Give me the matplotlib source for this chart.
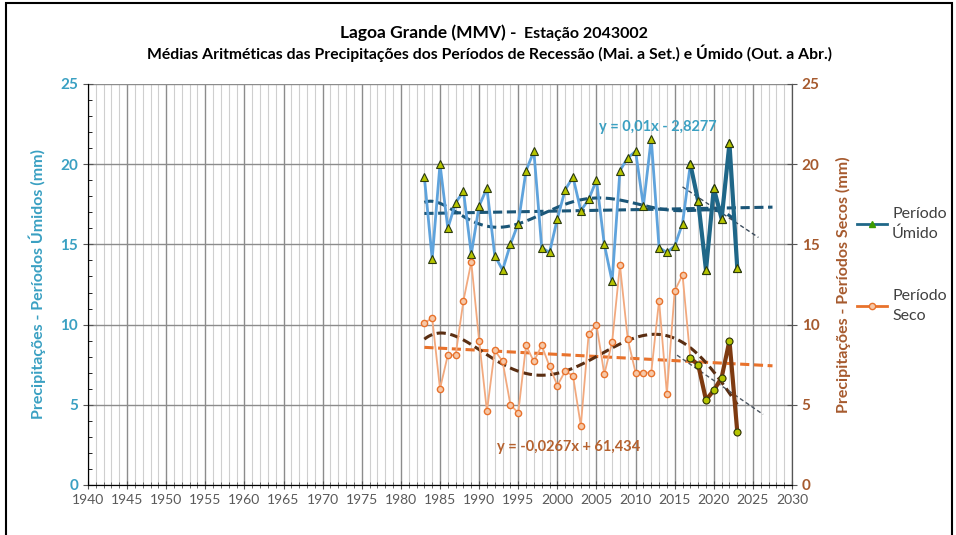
import numpy as np
import matplotlib.pyplot as plt
from matplotlib.patches import Rectangle
from matplotlib.lines import Line2D
from matplotlib.ticker import MultipleLocator

plt.rcParams['font.family'] = ['Lato', 'DejaVu Sans']

# Médias por período (mm), 1983-2023
anos = list(range(1983, 2024))
umido = [19.2, 14.1, 20.0, 16.0, 17.6, 18.3, 14.4, 17.4, 18.5, 14.3,
         13.4, 15.0, 16.3, 19.6, 20.8, 14.8, 14.5, 16.6, 18.4, 19.2,
         17.1, 17.8, 19.0, 15.0, 12.7, 19.6, 20.4, 20.8, 17.4, 21.6,
         14.8, 14.5, 14.9, 16.3, 20.0, 17.7, 13.4, 18.5, 16.6, 21.3, 13.5]
seco = [10.1, 10.4, 6.0, 8.1, 8.1, 11.5, 13.9, 9.0, 4.6, 8.4,
        7.7, 5.0, 4.5, 8.7, 7.7, 8.7, 7.4, 6.2, 7.1, 6.8,
        3.7, 9.4, 10.0, 6.9, 8.9, 13.7, 9.1, 7.0, 7.0, 7.0,
        11.5, 5.7, 12.1, 13.1, 7.9, 7.5, 5.3, 5.9, 6.7, 9.0, 3.3]
inicio_recente = 2017

azul_claro = '#5FA3DC'
azul_escuro = '#1F6788'
azul_tend = '#1B5678'
laranja_claro = '#F2A97E'
laranja = '#E8722C'
marrom = '#7E3A10'
marrom_tend = '#5A2E12'

x = np.array(anos, dtype=float)
yu = np.array(umido)
ys = np.array(seco)
rec = x >= inicio_recente

fig = plt.figure(figsize=(9.56, 5.35), dpi=100)
ax = fig.add_axes([0.092, 0.0935, 0.7365, 0.7495])
ax2 = ax.twinx()

for a in (ax, ax2):
    a.set_ylim(0, 25)
ax.set_xlim(1940, 2030)

# grade
ax.xaxis.set_major_locator(MultipleLocator(5))
ax.xaxis.set_minor_locator(MultipleLocator(1))
ax.yaxis.set_major_locator(MultipleLocator(5))
ax.yaxis.set_minor_locator(MultipleLocator(1))
ax2.yaxis.set_major_locator(MultipleLocator(5))
ax.grid(which='minor', axis='x', color='#CFCFCF', lw=0.8)
ax.grid(which='major', axis='x', color='#8C8C8C', lw=1.0)
ax.grid(which='major', axis='y', color='#8C8C8C', lw=1.0)
ax.set_axisbelow(True)

# tendências (linear, polinomial de ordem 6 e linear dos últimos anos)
def linha_tend(xv, yv, x0, x1, grau=1, n=300):
    c = np.polyfit(xv - 2000, yv, grau)
    xx = np.linspace(x0, x1, n)
    return xx, np.polyval(c, xx - 2000)

xx, yy = linha_tend(x, yu, 1983, 2027.5)
ax.plot(xx, yy, ls='--', color=azul_tend, lw=2.2, dashes=(3, 1.5), zorder=3)
xx, yy = linha_tend(x, yu, 1983, 2023, grau=6)
ax.plot(xx, yy, ls='--', color=azul_tend, lw=2.2, dashes=(3, 1.5), zorder=3)
xx, yy = linha_tend(x[rec], yu[rec], 2016, 2025.7)
ax.plot(xx, yy, ls='--', color='#3B4B5B', lw=1.0, dashes=(3, 2), zorder=3)

xx, yy = linha_tend(x, ys, 1983, 2027.5)
ax2.plot(xx, yy, ls='--', color=laranja, lw=2.2, dashes=(3, 1.5), zorder=3)
xx, yy = linha_tend(x, ys, 1983, 2023, grau=6)
ax2.plot(xx, yy, ls='--', color=marrom_tend, lw=2.2, dashes=(3, 1.5), zorder=3)
xx, yy = linha_tend(x[rec], ys[rec], 2015.3, 2026.3)
ax2.plot(xx, yy, ls='--', color='#4B5560', lw=1.0, dashes=(3, 2), zorder=3)

# séries
ax.plot(x, yu, color=azul_claro, lw=2.0, marker='^', ms=6,
        mfc='#B5C400', mec='#2B3A10', mew=0.8, zorder=4)
ax.plot(x[rec], yu[rec], color=azul_escuro, lw=3.0, marker='^', ms=6,
        mfc='#B5C400', mec='#2B3A10', mew=0.8, zorder=5)
ax2.plot(x, ys, color=laranja_claro, lw=1.3, marker='o', ms=4.5,
         mfc='#F6C8A8', mec=laranja, mew=1.0, zorder=4)
ax2.plot(x[rec], ys[rec], color=marrom, lw=3.0, marker='o', ms=5,
         mfc='#B5C400', mec='#2B3A10', mew=0.8, zorder=5)

# eixos
ax.spines['top'].set_visible(False)
ax2.spines['top'].set_visible(False)
ax.spines['left'].set_color('#555555')
ax.spines['bottom'].set_color('#555555')
ax2.spines['right'].set_color('#555555')
ax.tick_params(axis='x', which='both', direction='inout', length=6,
               colors='#555555', labelcolor='#595959', labelsize=10)
ax.tick_params(axis='x', which='minor', length=4)
ax.tick_params(axis='y', colors='#555555', labelcolor='#3AA0C2', labelsize=11,
               direction='inout', length=7)
ax.tick_params(axis='y', which='minor', direction='in', length=3)
ax2.tick_params(axis='y', colors='#555555', labelcolor='#A65A2E', labelsize=11,
                direction='inout', length=7)
for lab in ax.get_yticklabels() + ax2.get_yticklabels():
    lab.set_fontweight('bold')

ax.set_ylabel('Precipitações - Períodos Úmidos (mm)', color='#3AA0C2',
              fontsize=11.5, fontweight='bold', labelpad=10)
ax2.set_ylabel('Precipitações - Períodos Secos (mm)', color='#A65A2E',
               fontsize=11.5, fontweight='bold', labelpad=12)

ax.text(2012.9, 22.3, 'y = 0,01x - 2,8277', color='#3AA0C2', fontsize=10.5,
        fontweight='bold', ha='center', va='center')
ax2.text(2001.4, 2.35, 'y = -0,0267x + 61,434', color='#B5612E', fontsize=10.5,
         fontweight='bold', ha='center', va='center')

# títulos
fig.text(0.540, 0.938, 'Lagoa Grande (MMV) -', fontsize=12.5, fontweight='bold',
         ha='right', va='center')
fig.text(0.548, 0.936, 'Estação 2043002', fontsize=11.5, fontweight='bold',
         ha='left', va='center')
fig.text(0.512, 0.901,
         'Médias Aritméticas das Precipitações dos Períodos de Recessão (Mai. a Set.) e Úmido (Out. a Abr.)',
         fontsize=11.3, fontweight='bold', ha='center', va='center')

# legenda
h_um = Line2D([], [], color=azul_escuro, lw=2, marker='^', ms=5,
              mfc='#3C9A00', mec='#3C9A00')
h_se = Line2D([], [], color=laranja, lw=2, marker='o', ms=4.5,
              mfc='#F6C8A8', mec=laranja)
leg = fig.legend([h_um, h_se], ['Período\nÚmido', 'Período\nSeco'],
                 loc='upper left', bbox_to_anchor=(0.888, 0.628), frameon=False,
                 fontsize=11.5, labelcolor='#404040', handlelength=1.9,
                 handletextpad=0.3, labelspacing=3.0, borderpad=0)
for t in leg.get_texts():
    t.set_linespacing(1.5)

fig.patches.append(Rectangle((0.006, -0.01), 0.99, 1.004,
                             transform=fig.transFigure, fill=False,
                             edgecolor='black', lw=1.5))

fig.savefig('out.png', dpi=100)
